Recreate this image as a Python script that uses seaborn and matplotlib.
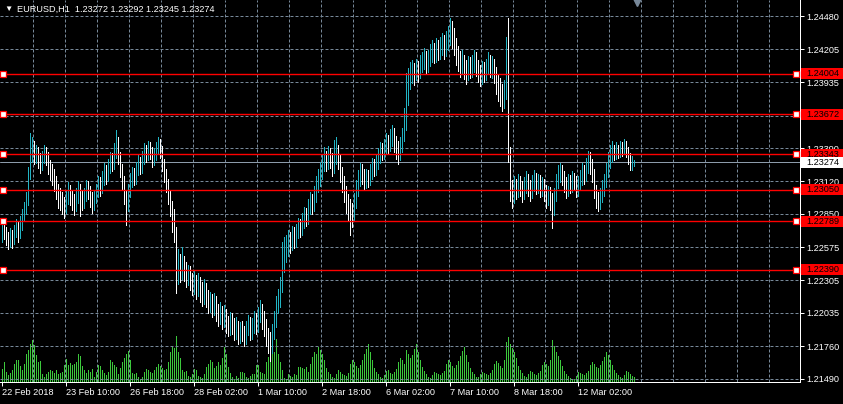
import numpy as np
import matplotlib
matplotlib.use("Agg")
import matplotlib.pyplot as plt
import matplotlib.transforms as mtransforms
from matplotlib.patches import Rectangle
import seaborn as sns

# EURUSD H1 bars, 22 Feb 2018 02:00 .. 13 Mar 2018 06:00
opens = [
    1.2268, 1.2273, 1.2270, 1.2266, 1.2262, 1.2268, 1.2264, 1.2271, 1.2275, 1.2269,
    1.2278, 1.2284, 1.2290, 1.2296, 1.2318, 1.2335, 1.2340, 1.2333, 1.2336, 1.2330,
    1.2326, 1.2331, 1.2336, 1.2332, 1.2325, 1.2321, 1.2318, 1.2312, 1.2305, 1.2300,
    1.2297, 1.2294, 1.2290, 1.2298, 1.2304, 1.2300, 1.2296, 1.2292, 1.2299, 1.2306,
    1.2301, 1.2295, 1.2300, 1.2307, 1.2303, 1.2298, 1.2293, 1.2299, 1.2304, 1.2310,
    1.2306, 1.2314, 1.2320, 1.2316, 1.2324, 1.2330, 1.2327, 1.2336, 1.2344, 1.2332,
    1.2322, 1.2312, 1.2300, 1.2292, 1.2304, 1.2313, 1.2318, 1.2315, 1.2322, 1.2328,
    1.2324, 1.2331, 1.2338, 1.2334, 1.2340, 1.2336, 1.2330, 1.2334, 1.2339, 1.2344,
    1.2337, 1.2326, 1.2318, 1.2310, 1.2300, 1.2291, 1.2284, 1.2270, 1.2232, 1.2240,
    1.2236, 1.2244, 1.2238, 1.2233, 1.2237, 1.2230, 1.2226, 1.2230, 1.2224, 1.2228,
    1.2221, 1.2218, 1.2224, 1.2216, 1.2212, 1.2215, 1.2209, 1.2213, 1.2206, 1.2201,
    1.2205, 1.2199, 1.2203, 1.2196, 1.2192, 1.2197, 1.2194, 1.2189, 1.2193, 1.2186,
    1.2190, 1.2188, 1.2184, 1.2191, 1.2195, 1.2189, 1.2193, 1.2198, 1.2194, 1.2202,
    1.2206, 1.2199, 1.2193, 1.2185, 1.2180, 1.2176, 1.2188, 1.2198, 1.2210, 1.2214,
    1.2226, 1.2243, 1.2252, 1.2259, 1.2264, 1.2261, 1.2268, 1.2264, 1.2270, 1.2275,
    1.2273, 1.2279, 1.2284, 1.2282, 1.2290, 1.2295, 1.2292, 1.2300, 1.2309, 1.2314,
    1.2320, 1.2326, 1.2331, 1.2327, 1.2334, 1.2330, 1.2324, 1.2332, 1.2337, 1.2329,
    1.2318, 1.2312, 1.2303, 1.2296, 1.2290, 1.2286, 1.2283, 1.2296, 1.2306, 1.2314,
    1.2319, 1.2317, 1.2312, 1.2316, 1.2313, 1.2320, 1.2325, 1.2322, 1.2328, 1.2333,
    1.2338, 1.2335, 1.2341, 1.2345, 1.2342, 1.2348, 1.2350, 1.2344, 1.2339, 1.2334,
    1.2341, 1.2350, 1.2365, 1.2379, 1.2392, 1.2399, 1.2404, 1.2400, 1.2406, 1.2402,
    1.2409, 1.2410, 1.2414, 1.2408, 1.2413, 1.2417, 1.2420, 1.2416, 1.2422, 1.2419,
    1.2424, 1.2426, 1.2421, 1.2428, 1.2432, 1.2436, 1.2432, 1.2424, 1.2416, 1.2412,
    1.2408, 1.2411, 1.2405, 1.2402, 1.2408, 1.2404, 1.2409, 1.2413, 1.2406, 1.2402,
    1.2398, 1.2404, 1.2401, 1.2406, 1.2410, 1.2405, 1.2408, 1.2401, 1.2393, 1.2391,
    1.2384, 1.2380, 1.2386, 1.2420, 1.2335, 1.2305, 1.2300, 1.2309, 1.2304, 1.2311,
    1.2306, 1.2302, 1.2308, 1.2313, 1.2307, 1.2303, 1.2310, 1.2314, 1.2308, 1.2312,
    1.2306, 1.2309, 1.2303, 1.2298, 1.2302, 1.2297, 1.2289, 1.2300, 1.2312, 1.2317,
    1.2320, 1.2316, 1.2310, 1.2306, 1.2312, 1.2308, 1.2314, 1.2311, 1.2306, 1.2310,
    1.2315, 1.2320, 1.2316, 1.2324, 1.2330, 1.2326, 1.2318, 1.2305, 1.2298, 1.2294,
    1.2300, 1.2306, 1.2312, 1.2320, 1.2328, 1.2334, 1.2338, 1.2334, 1.2339, 1.2335,
    1.2340, 1.2337, 1.2342, 1.2336, 1.2331, 1.2326, 1.23272,
]
highs = [
    1.2280, 1.2277, 1.2274, 1.2270, 1.2273, 1.2272, 1.2276, 1.2281, 1.2279, 1.2283,
    1.2289, 1.2295, 1.2303, 1.2324, 1.2352, 1.2348, 1.2345, 1.2342, 1.2340, 1.2335,
    1.2337, 1.2342, 1.2340, 1.2336, 1.2329, 1.2326, 1.2322, 1.2316, 1.2310, 1.2306,
    1.2303, 1.2299, 1.2304, 1.2311, 1.2309, 1.2305, 1.2301, 1.2306, 1.2312, 1.2310,
    1.2305, 1.2306, 1.2313, 1.2312, 1.2308, 1.2303, 1.2305, 1.2310, 1.2316, 1.2315,
    1.2320, 1.2327, 1.2325, 1.2330, 1.2336, 1.2335, 1.2343, 1.2354, 1.2348, 1.2336,
    1.2326, 1.2316, 1.2305, 1.2310, 1.2319, 1.2324, 1.2323, 1.2328, 1.2334, 1.2332,
    1.2337, 1.2343, 1.2342, 1.2345, 1.2344, 1.2340, 1.2339, 1.2344, 1.2348, 1.2347,
    1.2341, 1.2330, 1.2322, 1.2314, 1.2305, 1.2296, 1.2289, 1.2274, 1.2256, 1.2252,
    1.2258, 1.2250, 1.2245, 1.2243, 1.2242, 1.2236, 1.2238, 1.2235, 1.2236, 1.2233,
    1.2229, 1.2231, 1.2228, 1.2222, 1.2221, 1.2219, 1.2220, 1.2217, 1.2211, 1.2212,
    1.2209, 1.2210, 1.2207, 1.2201, 1.2204, 1.2203, 1.2199, 1.2200, 1.2197, 1.2196,
    1.2197, 1.2193, 1.2197, 1.2202, 1.2200, 1.2199, 1.2205, 1.2203, 1.2208, 1.2214,
    1.2211, 1.2205, 1.2198, 1.2191, 1.2188, 1.2194, 1.2205, 1.2217, 1.2223, 1.2233,
    1.2262, 1.2266, 1.2268, 1.2272, 1.2270, 1.2275, 1.2274, 1.2277, 1.2282, 1.2281,
    1.2286, 1.2291, 1.2290, 1.2297, 1.2303, 1.2301, 1.2308, 1.2316, 1.2322, 1.2328,
    1.2334, 1.2340, 1.2337, 1.2341, 1.2339, 1.2335, 1.2346, 1.2348, 1.2342, 1.2334,
    1.2324, 1.2316, 1.2308, 1.2301, 1.2297, 1.2294, 1.2302, 1.2313, 1.2321, 1.2327,
    1.2326, 1.2322, 1.2322, 1.2321, 1.2326, 1.2331, 1.2330, 1.2334, 1.2339, 1.2344,
    1.2343, 1.2347, 1.2352, 1.2350, 1.2355, 1.2358, 1.2356, 1.2349, 1.2345, 1.2348,
    1.2356, 1.2372, 1.2401, 1.2405, 1.2410, 1.2412, 1.2409, 1.2413, 1.2411, 1.2416,
    1.2418, 1.2422, 1.2419, 1.2420, 1.2425, 1.2428, 1.2426, 1.2430, 1.2428, 1.2431,
    1.2434, 1.2432, 1.2436, 1.2440, 1.2446, 1.2444, 1.2438, 1.2430, 1.2423, 1.2419,
    1.2420, 1.2416, 1.2412, 1.2415, 1.2414, 1.2416, 1.2420, 1.2418, 1.2412, 1.2408,
    1.2411, 1.2410, 1.2413, 1.2418, 1.2416, 1.2415, 1.2413, 1.2406, 1.2400, 1.2397,
    1.2392, 1.2395, 1.2431, 1.2446, 1.2340, 1.2313, 1.2316, 1.2314, 1.2318, 1.2316,
    1.2312, 1.2315, 1.2320, 1.2318, 1.2313, 1.2317, 1.2321, 1.2319, 1.2318, 1.2317,
    1.2315, 1.2314, 1.2309, 1.2308, 1.2307, 1.2302, 1.2306, 1.2318, 1.2325, 1.2327,
    1.2325, 1.2320, 1.2315, 1.2318, 1.2317, 1.2320, 1.2319, 1.2316, 1.2316, 1.2321,
    1.2327, 1.2325, 1.2331, 1.2337, 1.2336, 1.2330, 1.2322, 1.2309, 1.2303, 1.2306,
    1.2313, 1.2318, 1.2327, 1.2336, 1.2342, 1.2345, 1.2342, 1.2344, 1.2342, 1.2345,
    1.2344, 1.2347, 1.2345, 1.2340, 1.2335, 1.2333, 1.23292,
]
lows = [
    1.2262, 1.2264, 1.2259, 1.2256, 1.2258, 1.2257, 1.2260, 1.2266, 1.2262, 1.2265,
    1.2272, 1.2279, 1.2285, 1.2292, 1.2314, 1.2328, 1.2326, 1.2327, 1.2323, 1.2319,
    1.2321, 1.2327, 1.2325, 1.2318, 1.2313, 1.2309, 1.2304, 1.2297, 1.2290, 1.2288,
    1.2285, 1.2282, 1.2286, 1.2293, 1.2292, 1.2288, 1.2284, 1.2287, 1.2294, 1.2283,
    1.2288, 1.2290, 1.2296, 1.2297, 1.2291, 1.2286, 1.2288, 1.2294, 1.2299, 1.2300,
    1.2302, 1.2309, 1.2310, 1.2312, 1.2319, 1.2320, 1.2322, 1.2331, 1.2326, 1.2315,
    1.2305, 1.2293, 1.2276, 1.2287, 1.2299, 1.2307, 1.2309, 1.2310, 1.2317, 1.2318,
    1.2319, 1.2326, 1.2328, 1.2329, 1.2330, 1.2324, 1.2325, 1.2329, 1.2334, 1.2331,
    1.2320, 1.2311, 1.2303, 1.2293, 1.2283, 1.2270, 1.2262, 1.2220, 1.2227, 1.2229,
    1.2231, 1.2230, 1.2225, 1.2226, 1.2222, 1.2218, 1.2219, 1.2215, 1.2217, 1.2212,
    1.2209, 1.2211, 1.2208, 1.2203, 1.2204, 1.2200, 1.2202, 1.2197, 1.2193, 1.2194,
    1.2190, 1.2192, 1.2187, 1.2184, 1.2185, 1.2186, 1.2181, 1.2182, 1.2178, 1.2179,
    1.2180, 1.2176, 1.2178, 1.2185, 1.2181, 1.2182, 1.2187, 1.2186, 1.2188, 1.2196,
    1.2190, 1.2184, 1.2176, 1.2170, 1.2164, 1.2170, 1.2182, 1.2192, 1.2203, 1.2208,
    1.2221, 1.2237, 1.2245, 1.2250, 1.2253, 1.2255, 1.2257, 1.2258, 1.2265, 1.2266,
    1.2268, 1.2273, 1.2275, 1.2277, 1.2285, 1.2285, 1.2287, 1.2295, 1.2303, 1.2308,
    1.2314, 1.2320, 1.2320, 1.2322, 1.2323, 1.2316, 1.2319, 1.2326, 1.2322, 1.2311,
    1.2303, 1.2295, 1.2286, 1.2279, 1.2268, 1.2274, 1.2279, 1.2290, 1.2300, 1.2308,
    1.2310, 1.2305, 1.2306, 1.2307, 1.2309, 1.2314, 1.2316, 1.2317, 1.2322, 1.2327,
    1.2329, 1.2330, 1.2335, 1.2335, 1.2337, 1.2341, 1.2336, 1.2330, 1.2326, 1.2329,
    1.2336, 1.2345, 1.2354, 1.2375, 1.2388, 1.2393, 1.2391, 1.2395, 1.2394, 1.2397,
    1.2402, 1.2404, 1.2401, 1.2402, 1.2407, 1.2410, 1.2409, 1.2410, 1.2412, 1.2413,
    1.2416, 1.2413, 1.2415, 1.2420, 1.2424, 1.2422, 1.2416, 1.2408, 1.2403, 1.2398,
    1.2400, 1.2396, 1.2392, 1.2395, 1.2397, 1.2398, 1.2402, 1.2399, 1.2394, 1.2390,
    1.2392, 1.2394, 1.2395, 1.2400, 1.2398, 1.2397, 1.2393, 1.2384, 1.2378, 1.2374,
    1.2370, 1.2372, 1.2380, 1.2328, 1.2296, 1.2290, 1.2294, 1.2297, 1.2299, 1.2300,
    1.2295, 1.2297, 1.2302, 1.2300, 1.2296, 1.2298, 1.2304, 1.2301, 1.2302, 1.2299,
    1.2300, 1.2296, 1.2290, 1.2292, 1.2288, 1.2273, 1.2284, 1.2296, 1.2306, 1.2311,
    1.2309, 1.2303, 1.2298, 1.2300, 1.2302, 1.2303, 1.2305, 1.2299, 1.2300, 1.2305,
    1.2309, 1.2310, 1.2312, 1.2319, 1.2318, 1.2311, 1.2298, 1.2290, 1.2287, 1.2289,
    1.2295, 1.2300, 1.2307, 1.2315, 1.2323, 1.2328, 1.2329, 1.2330, 1.2331, 1.2332,
    1.2333, 1.2334, 1.2332, 1.2326, 1.2321, 1.2321, 1.23245,
]
closes = [
    1.2273, 1.2270, 1.2266, 1.2262, 1.2268, 1.2264, 1.2271, 1.2275, 1.2269, 1.2278,
    1.2284, 1.2290, 1.2296, 1.2318, 1.2335, 1.2340, 1.2333, 1.2336, 1.2330, 1.2326,
    1.2331, 1.2336, 1.2332, 1.2325, 1.2321, 1.2318, 1.2312, 1.2305, 1.2300, 1.2297,
    1.2294, 1.2290, 1.2298, 1.2304, 1.2300, 1.2296, 1.2292, 1.2299, 1.2306, 1.2301,
    1.2295, 1.2300, 1.2307, 1.2303, 1.2298, 1.2293, 1.2299, 1.2304, 1.2310, 1.2306,
    1.2314, 1.2320, 1.2316, 1.2324, 1.2330, 1.2327, 1.2336, 1.2344, 1.2332, 1.2322,
    1.2312, 1.2300, 1.2292, 1.2304, 1.2313, 1.2318, 1.2315, 1.2322, 1.2328, 1.2324,
    1.2331, 1.2338, 1.2334, 1.2340, 1.2336, 1.2330, 1.2334, 1.2339, 1.2344, 1.2337,
    1.2326, 1.2318, 1.2310, 1.2300, 1.2291, 1.2284, 1.2270, 1.2232, 1.2240, 1.2236,
    1.2244, 1.2238, 1.2233, 1.2237, 1.2230, 1.2226, 1.2230, 1.2224, 1.2228, 1.2221,
    1.2218, 1.2224, 1.2216, 1.2212, 1.2215, 1.2209, 1.2213, 1.2206, 1.2201, 1.2205,
    1.2199, 1.2203, 1.2196, 1.2192, 1.2197, 1.2194, 1.2189, 1.2193, 1.2186, 1.2190,
    1.2188, 1.2184, 1.2191, 1.2195, 1.2189, 1.2193, 1.2198, 1.2194, 1.2202, 1.2206,
    1.2199, 1.2193, 1.2185, 1.2180, 1.2176, 1.2188, 1.2198, 1.2210, 1.2214, 1.2226,
    1.2243, 1.2252, 1.2259, 1.2264, 1.2261, 1.2268, 1.2264, 1.2270, 1.2275, 1.2273,
    1.2279, 1.2284, 1.2282, 1.2290, 1.2295, 1.2292, 1.2300, 1.2309, 1.2314, 1.2320,
    1.2326, 1.2331, 1.2327, 1.2334, 1.2330, 1.2324, 1.2332, 1.2337, 1.2329, 1.2318,
    1.2312, 1.2303, 1.2296, 1.2290, 1.2286, 1.2283, 1.2296, 1.2306, 1.2314, 1.2319,
    1.2317, 1.2312, 1.2316, 1.2313, 1.2320, 1.2325, 1.2322, 1.2328, 1.2333, 1.2338,
    1.2335, 1.2341, 1.2345, 1.2342, 1.2348, 1.2350, 1.2344, 1.2339, 1.2334, 1.2341,
    1.2350, 1.2365, 1.2379, 1.2392, 1.2399, 1.2404, 1.2400, 1.2406, 1.2402, 1.2409,
    1.2410, 1.2414, 1.2408, 1.2413, 1.2417, 1.2420, 1.2416, 1.2422, 1.2419, 1.2424,
    1.2426, 1.2421, 1.2428, 1.2432, 1.2436, 1.2432, 1.2424, 1.2416, 1.2412, 1.2408,
    1.2411, 1.2405, 1.2402, 1.2408, 1.2404, 1.2409, 1.2413, 1.2406, 1.2402, 1.2398,
    1.2404, 1.2401, 1.2406, 1.2410, 1.2405, 1.2408, 1.2401, 1.2393, 1.2391, 1.2384,
    1.2380, 1.2386, 1.2420, 1.2335, 1.2305, 1.2300, 1.2309, 1.2304, 1.2311, 1.2306,
    1.2302, 1.2308, 1.2313, 1.2307, 1.2303, 1.2310, 1.2314, 1.2308, 1.2312, 1.2306,
    1.2309, 1.2303, 1.2298, 1.2302, 1.2297, 1.2289, 1.2300, 1.2312, 1.2317, 1.2320,
    1.2316, 1.2310, 1.2306, 1.2312, 1.2308, 1.2314, 1.2311, 1.2306, 1.2310, 1.2315,
    1.2320, 1.2316, 1.2324, 1.2330, 1.2326, 1.2318, 1.2305, 1.2298, 1.2294, 1.2300,
    1.2306, 1.2312, 1.2320, 1.2328, 1.2334, 1.2338, 1.2334, 1.2339, 1.2335, 1.2340,
    1.2337, 1.2342, 1.2336, 1.2331, 1.2326, 1.23272, 1.23274,
]
volumes = [
    2600, 4000, 2000, 1400, 1800, 2400, 3600, 4400, 4400, 3200, 2400, 3600, 5600, 6400, 7600, 8400,
    7400, 5400, 4000, 4200, 1600, 1000,
    1600, 2000, 2400, 2200, 1800, 2400, 1600, 1800, 2000, 3400, 4600, 3400, 3800, 3400, 3600, 4000,
    5600, 5200, 3200, 2400, 1800, 2400, 2000, 2600,
    1000, 2000, 3400, 3200, 2400, 1800, 1400, 2000, 4400, 4000, 3400, 3000, 1600, 2800, 4000, 4800,
    5600, 6200, 4400, 1800, 1600, 1800, 1000, 600,
    1000, 2000, 2600, 2400, 2000,
    1800, 2400, 3000, 3600, 3200, 2800, 2400, 2600, 4000,
    6000, 7000, 6800, 9200, 6000, 4800,
    2400, 2000, 2200, 1200, 1000, 1600, 2600, 2400, 1200, 1000,
    800, 1600, 3000, 3600, 4400, 4000, 2800, 3200, 4000, 3400,
    4800, 7000, 5600, 3000, 1800, 1000, 600, 1200, 800, 2000,
    2000, 1800, 1000, 800, 1200, 1600, 1600, 3400, 3400, 2000,
    1800, 1600, 4000, 5000, 6600, 7600, 6000, 8600, 5600, 4000,
    2400, 800, 600, 1600, 1200, 1000, 1600, 1400, 3000, 3000,
    2800, 2600, 3000, 2000, 3600, 5000, 6000, 5600, 7000, 6400,
    5600, 4400, 2800, 2000, 1600, 1000,
    800, 1600, 2400, 2000, 1600, 1400, 1200, 1800, 3600, 4400, 4000, 3200,
    2800, 3400, 4400, 5600, 6600, 7600, 6000, 4400, 2800, 2000, 1600, 1000,
    800, 1400, 2200, 2400, 1800, 1600, 2000, 2600, 4000, 4800, 4400, 3600,
    6400, 5600, 4800, 5400, 6600, 7600, 6000, 4400, 3000, 2200, 1600, 1000,
    800, 1400, 2000, 1800, 1600, 1400, 1800, 2200, 3600, 4400, 4000, 3200,
    2800, 3400, 4200, 5200, 6200, 7000, 5400, 4000, 2800, 2000, 1600, 1000,
    1000, 1600, 2000, 1800, 1600, 1400, 1800, 2400, 3600, 4200, 3800, 3200,
    2800, 4400, 8000, 9000, 7600, 6800, 6000, 4800, 3200, 2400, 1800, 1200,
    1000, 1600, 2200, 2000, 1600, 1400, 1800, 2200, 3400, 4000, 3600, 3200,
    4400, 8400, 7200, 6000, 5200, 4400, 3200, 2200, 1600, 1200, 800, 600,
    600, 1200, 2000, 1800, 1600, 1400, 1800, 2200, 3400, 4000, 3600, 3000,
    2800, 3400, 4200, 5000, 6000, 5400, 4400, 3400, 2400, 1800, 1400, 1000,
    800, 1400, 2200, 2000, 1600, 1200, 1000,
]

levels = [1.24004, 1.23672, 1.23343, 1.23050, 1.22789, 1.22390]
bid = 1.23274
price_ticks = [1.24480, 1.24205, 1.23935, 1.23660, 1.23390, 1.23120,
               1.22850, 1.22575, 1.22305, 1.22035, 1.21760, 1.21490]
# 1.23660 sits fully behind the 1.23672 label in the terminal, so its text is left out
hidden_ticks = [1.23660]
date_pos = [0, 32, 64, 96, 128, 160, 192, 224, 256, 288]
date_labels = ['22 Feb 2018', '23 Feb 10:00', '26 Feb 18:00', '28 Feb 02:00', '1 Mar 10:00',
               '2 Mar 18:00', '6 Mar 02:00', '7 Mar 10:00', '8 Mar 18:00', '12 Mar 02:00']

teal = '#22B4C4'
vol_green = '#3CC83C'
grid_c = '#778899'

sns.set_style("dark")
plt.rcParams['font.family'] = ['Liberation Sans', 'DejaVu Sans']
plt.rcParams['font.size'] = 6.6

W, H = 843, 404
fig = plt.figure(figsize=(W / 100, H / 100), dpi=100, facecolor='black')
ax = fig.add_axes([0, 22 / H, 800 / W, 382 / H])
vol_ax = ax.twinx()
ax.set_zorder(vol_ax.get_zorder() + 1)
ax.patch.set_visible(False)

idx = np.arange(len(closes))

# volumes at the bottom of the window
sns.barplot(x=idx, y=volumes, native_scale=True, width=0.5, color=vol_green, saturation=1,
            errorbar=None, linewidth=0, antialiased=False, ax=vol_ax)
vol_ax.set_ylim(0, 76400)
vol_ax.set_yticks([])
vol_ax.set_ylabel('')
for s in vol_ax.spines.values():
    s.set_visible(False)

ylo, yhi = 1.21465, 1.24612
ax.set_xlim(-1, 399)
ax.set_ylim(ylo, yhi)

# dashed grid
dash = (0, (3, 2))
for p in price_ticks:
    ax.axhline(p, color=grid_c, lw=0.72, ls=dash, zorder=1)
for g in np.arange(15.5, 399, 16):
    ax.axvline(g, color=grid_c, lw=0.72, ls=dash, zorder=1)

# price bars (high-low), teal for up bars, white for down bars
bar_cols = [teal if c > o else 'white' for o, c in zip(opens, closes)]
ax.vlines(idx, lows, highs, colors=bar_cols, lw=0.72, antialiased=False, zorder=3)

# bid line
ax.axhline(bid, color='#8C9BAA', lw=0.72, zorder=2.5)

# horizontal levels
for lv in levels:
    ax.axhline(lv, color='red', lw=1.0, zorder=4)
    ax.plot([0.5, 397], [lv, lv], ls='none', marker='s', ms=4.2, mfc='white', mec='red',
            mew=0.9, zorder=5, clip_on=False)

trans = mtransforms.blended_transform_factory(ax.transAxes, ax.transData)
px = (yhi - ylo) / 382
box_h = 11 * px


def price_box(value, face, txt):
    ax.add_patch(Rectangle((1 + 1 / 800, value - box_h / 2), 43 / 800, box_h, transform=trans,
                           facecolor=face, edgecolor='none', clip_on=False, zorder=6))
    ax.text(1 + 6 / 800, value, f'{value:.5f}', transform=trans, va='center', ha='left',
            color=txt, zorder=7, clip_on=False)


for lv in levels:
    price_box(lv, 'red', 'black')
price_box(bid, 'white', 'black')

# axes / ticks
ax.yaxis.tick_right()
ax.set_yticks(price_ticks)
ax.set_yticklabels(['' if p in hidden_ticks else f'{p:.5f}' for p in price_ticks])
ax.tick_params(axis='y', right=True, left=False, labelright=True, labelleft=False,
               colors='white', length=3, width=0.72, pad=1.5)
ax.set_xticks(date_pos)
ax.set_xticklabels(date_labels)
ax.tick_params(axis='x', bottom=True, colors='white', length=3, width=0.72, pad=1.5)
for lbl in ax.get_xticklabels():
    lbl.set_ha('left')
ax.set_xlabel('')
ax.set_ylabel('')
ax.grid(False)
for side in ['left', 'top']:
    ax.spines[side].set_visible(False)
for side in ['bottom', 'right']:
    ax.spines[side].set_color('white')
    ax.spines[side].set_linewidth(0.72)

# chart shift marker
ax.plot([317.5], [yhi - 2 * px], marker='v', color=grid_c, ms=6, clip_on=False, zorder=6)

# header
fig.text(4 / W, 1 - 9 / H, '▼', color='white', va='center', ha='left', fontsize=6)
fig.text(17 / W, 1 - 9 / H,
         f'EURUSD,H1  {opens[-1]:.5f} {highs[-1]:.5f} {lows[-1]:.5f} {closes[-1]:.5f}',
         color='white', va='center', ha='left')

fig.savefig('out.png', dpi=100, facecolor='black')
